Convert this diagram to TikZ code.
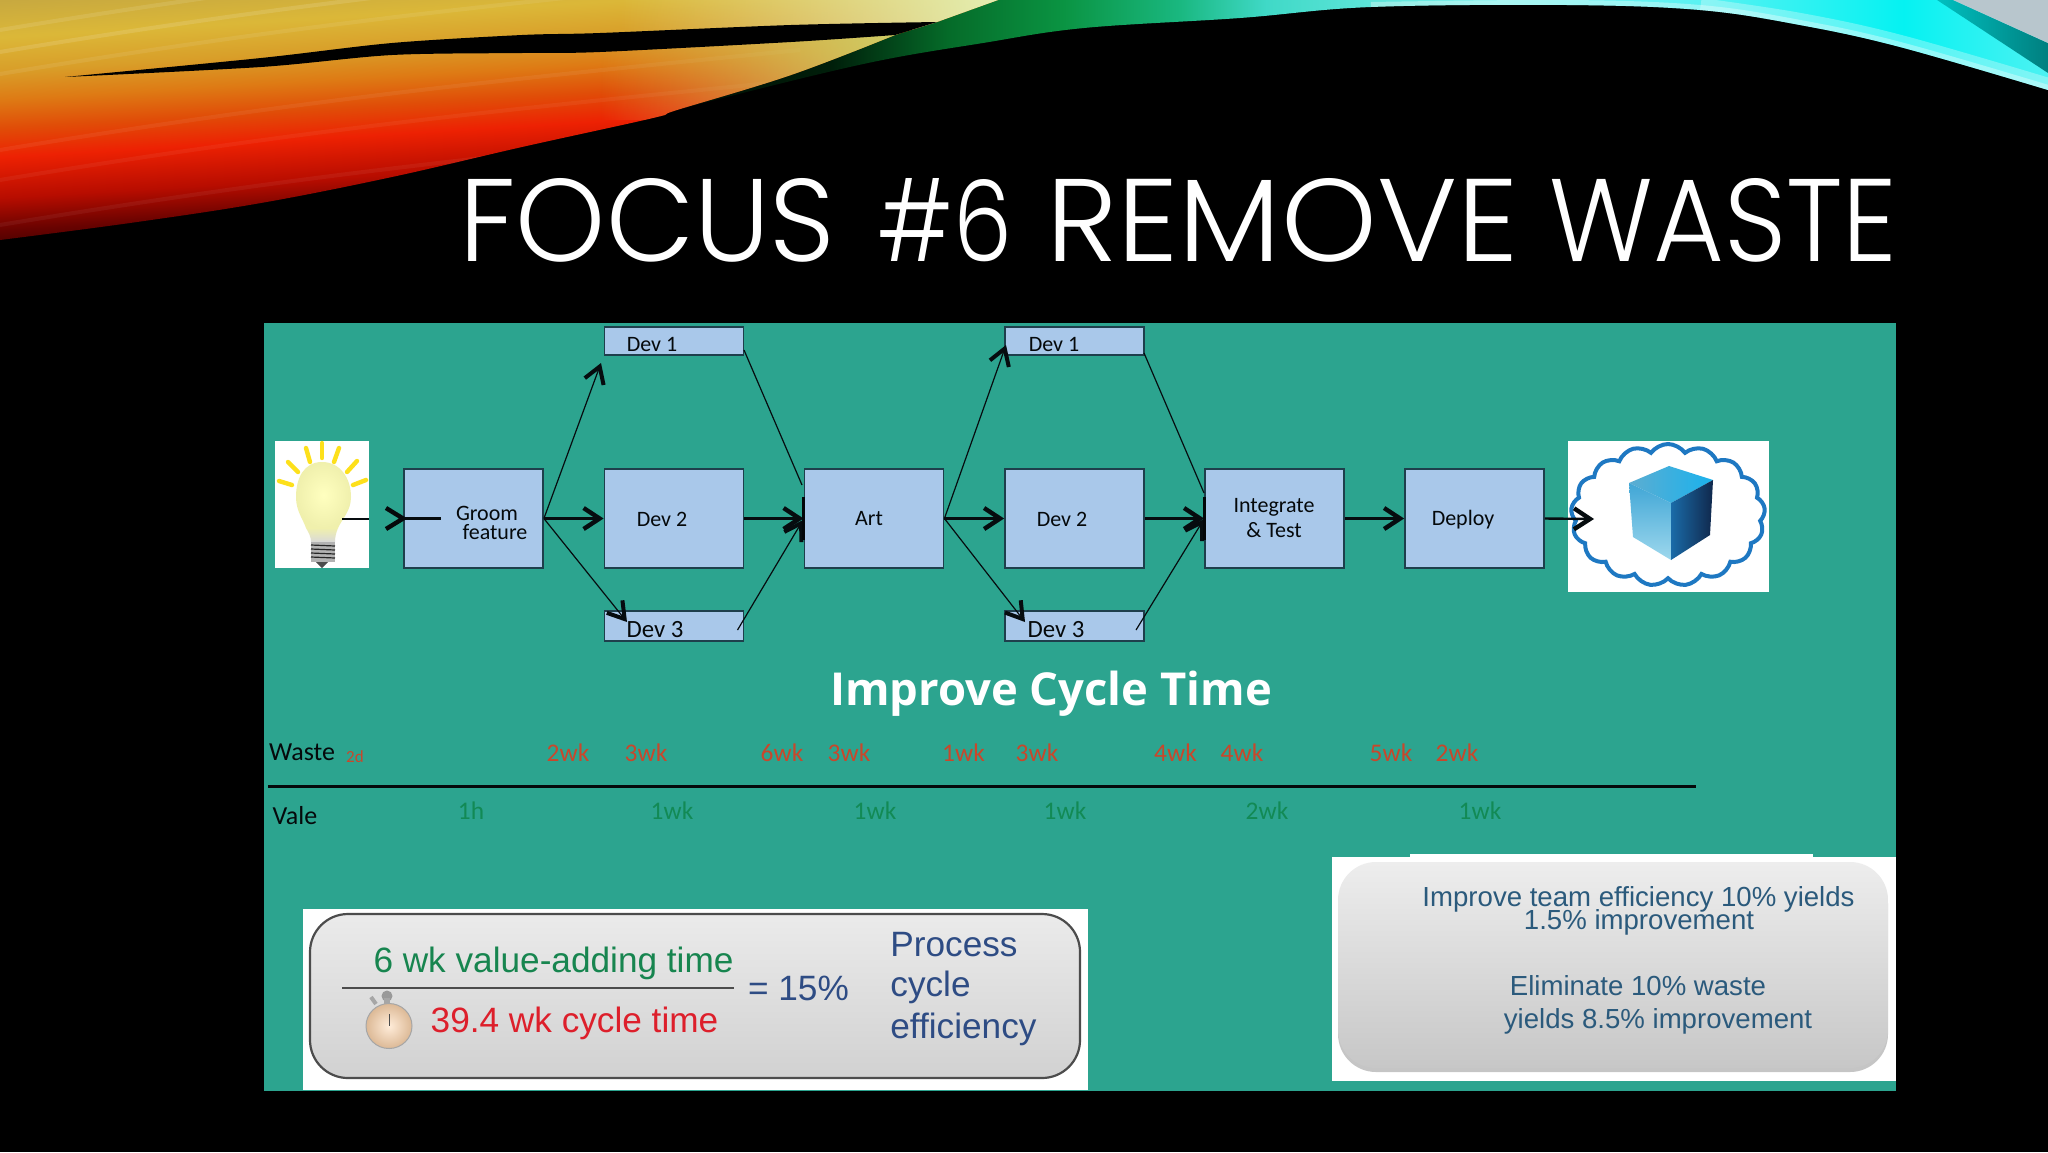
\documentclass[tikz,border=0pt]{standalone}
\usepackage{fontspec}
\setmainfont{Carlito}
\newfontfamily\arialfont{Liberation Sans}
\newfontfamily\titlefont{Poppins Light}
\newfontfamily\headfont{Open Sans}
\usetikzlibrary{arrows.meta,shapes.symbols,shadows,fadings}

\definecolor{panelteal}{HTML}{2CA48F}
\definecolor{boxblue}{HTML}{A9C8EA}
\definecolor{boxedge}{HTML}{1E3F4C}
\definecolor{wastered}{HTML}{C9472B}
\definecolor{valuegreen}{HTML}{128A55}
\definecolor{fracgreen}{HTML}{17854F}
\definecolor{fracred}{HTML}{DD1F2B}
\definecolor{fracblue}{HTML}{2E4C84}
\definecolor{noteblue}{HTML}{2B5A7C}
\definecolor{cloudblue}{HTML}{1E78C2}
\definecolor{paletop}{HTML}{E4F0B4}
\definecolor{palelow}{HTML}{CFCF68}
\definecolor{cubetopA}{HTML}{5CADD1}
\definecolor{cubetopB}{HTML}{1AB2ED}
\definecolor{cubeleftA}{HTML}{40A6D6}
\definecolor{cubeleftB}{HTML}{9ED8ED}
\definecolor{cubesideA}{HTML}{1A6BA8}
\definecolor{cubesideB}{HTML}{10284C}

\pgfdeclareverticalshading{firesweep}{100bp}{
  rgb(0bp)=(.2,0,0); rgb(53bp)=(.2,0,0); rgb(54.2bp)=(.42,.01,0);
  rgb(55.5bp)=(.72,.05,0); rgb(57.2bp)=(.93,.13,.01); rgb(58.4bp)=(.88,.3,.03);
  rgb(59.6bp)=(.87,.48,.08); rgb(60.8bp)=(.85,.62,.16); rgb(62.2bp)=(.86,.72,.22);
  rgb(63.8bp)=(.78,.66,.25); rgb(100bp)=(.78,.66,.25)}
\pgfdeclarehorizontalshading{icesweep}{100bp}{
  rgb(0bp)=(0,.02,0); rgb(25bp)=(0,.02,0); rgb(33bp)=(0,.12,.04); rgb(37bp)=(.02,.42,.16);
  rgb(41bp)=(.04,.58,.26); rgb(45bp)=(.1,.72,.5); rgb(48bp)=(.25,.85,.78); rgb(56bp)=(.5,.95,.93);
  rgb(63bp)=(.35,.95,.95); rgb(70bp)=(.02,.95,.95); rgb(75bp)=(.3,.95,.95); rgb(100bp)=(.3,.95,.95)}

\tikzset{
  flowbox/.style={draw=boxedge, fill=boxblue, line width=.9pt, minimum width=69.5pt, inner sep=0pt},
  flowtext/.style={align=center, inner sep=0pt, font=\fontsize{11}{12.4}\selectfont, text=black!85!boxedge},
  wideflowtext/.style={flowtext, font=\fontsize{12.4}{14}\selectfont},
  flowline/.style={black!80!boxedge, line width=.6pt},
  flowarrow/.style={black!80!boxedge, line width=1.2pt, -{Straight Barb[length=8pt,width=10.5pt,line width=2.2pt]}},
  thinarrow/.style={flowline, -{Straight Barb[length=8pt,width=10pt,line width=2pt]}},
  barline/.style={black!90!boxedge, line width=1.5pt},
  wastelabel/.style={inner sep=0pt, font=\fontsize{12.7}{14}\selectfont, text=wastered},
  valuelabel/.style={inner sep=0pt, font=\fontsize{12.7}{14}\selectfont, text=valuegreen},
  rowlabel/.style={inner sep=0pt, font=\fontsize{13}{15}\selectfont, text=black!85!boxedge},
  fractext/.style={inner sep=0pt, font=\arialfont\fontsize{17.6}{20}\selectfont},
  notetext/.style={inner sep=0pt, text=noteblue, font=\arialfont\fontsize{13.8}{16}\selectfont}
}

\begin{document}
\begin{tikzpicture}[x=0.5pt, y=-0.5pt]
    \useasboundingbox (0,0) rectangle (2048,1152);
    \fill[black] (0,0) rectangle (2048,1152);

    % swoosh
    \begin{scope}
        \clip plot[smooth, tension=.6] coordinates {(611,128) (715,100) (868,63) (983,43) (1084,28) (1240,18) (1371,7) (1567,5) (1700,10) (1800,25) (1900,47) (2048,90)}
            -- (2048,0) -- (998,0) -- (937,22) -- (895,35) -- (791,75) -- (677,110) -- cycle;
        \shade[shading=icesweep] (600,0) rectangle (2048,130);
        \draw[white, opacity=.35, line width=5pt] plot[smooth, tension=.6] coordinates {(1371,7) (1567,5) (1700,10) (1800,25) (1900,47) (2048,90)};
        \draw[white, opacity=.3, line width=12pt] plot[smooth, tension=.6] coordinates {(1700,10) (1800,25) (1900,47) (2048,90)};
    \end{scope}
    \shade[left color=cyan!75!black, right color=teal] (1937,0) -- (2048,73) -- (2048,43) -- (1953,0) -- cycle;
    \fill[cyan!20!gray!55!white] (1953,0) -- (2048,43) -- (2048,0) -- cycle;
    \begin{scope}
        \clip plot[smooth, tension=.6] coordinates {(0,240) (130,223) (261,203) (392,177) (522,147) (653,118) (677,110) (791,75) (895,35)}
            -- (937,22) -- (998,0) -- (0,0) -- cycle;
        \shade[shading=firesweep, shading angle=3.4] (-100,-300) rectangle (1100,900);
        \foreach \i/\o in {0/.1, 22/.12, 44/.08, 120/.06, 150/.05, 195/.05}
            \draw[white, opacity=\o, line width=2pt] (0,\i+30) .. controls (300,\i-20) and (500,\i-40) .. (800,\i-70);
        \fill[paletop, path fading=west] (620,0) rectangle (1000,30);
        \fill[palelow, path fading=west] (600,30) rectangle (900,120);
    \end{scope}
    \fill[black] plot[smooth, tension=.5] coordinates {(65,77) (261,58) (392,43) (522,35) (600,33) (791,25) (937,22)}
        -- plot[smooth, tension=.5] coordinates {(895,35) (791,42) (600,52) (522,53) (392,55) (261,67) (65,77)} -- cycle;

    % slide title, word by word
    \foreach \n/\x/\w/\t in {titleA/459/188/FOCUS, titleB/877/67.5/\#6, titleC/1046/236/REMOVE, titleD/1549/174/WASTE}
        \node[inner sep=0pt, anchor=base west, text=white] (\n) at (\x,261) {\resizebox{\w pt}{41.5pt}{\titlefont \t}};

    \fill[panelteal] (264,323) rectangle (1896,1091);

    % bulb picture
    \fill[white] (275,441) rectangle (369,568);
    \foreach \xa/\ya/\xb/\yb in {322/443/322/458, 306/448/310/462, 339/448/334/462, 288/462/298/472, 357/461/347/472, 279/481/292/485, 366/480/353/485}
        \draw[yellow!80!orange!90!white, line width=2.2pt, line cap=round] (\xa,\ya) -- (\xb,\yb);
    \shade[inner color=white!75!yellow, outer color=yellow!30!white!88!gray]
        (322,462) .. controls (340,462) and (351,478) .. (351,497)
        .. controls (351,511) and (342,519) .. (338,528) -- (306,528)
        .. controls (303,519) and (296,511) .. (296,497)
        .. controls (296,478) and (304,462) .. (322,462);
    \shade[top color=yellow!30!white!88!gray, bottom color=gray!30] (306,528) .. controls (309,533) and (311,537) .. (311,542) -- (335,542) .. controls (335,537) and (336,533) .. (338,528) -- cycle;
    \fill[gray!60] (311,542) rectangle (335,562);
    \foreach \y in {545,549,553,557}
        \draw[gray!30!black, line width=.6pt] (311,\y) -- (335,\y+1);
    \fill[black!70] (316,562) -- (328,562) -- (322,568) -- cycle;

    % cloud picture
    \fill[white] (1568,441) rectangle (1769,592);
    \node[cloud, cloud puffs=17, cloud puff arc=110, aspect=1.3, draw=cloudblue, line width=2pt, fill=white,
        minimum width=97pt, minimum height=71pt, inner sep=0pt] (cloudshape) at (1668,515) {};
    \coordinate (cubetop) at (1669,466);
    \coordinate (cubeleft) at (1629,483);
    \coordinate (cuberight) at (1713,480);
    \coordinate (cubemid) at (1671,503);
    \coordinate (cubelow) at (1633,537);
    \coordinate (cubebase) at (1671,560);
    \coordinate (cubeside) at (1710,535);
    \shade[left color=cubetopA, right color=cubetopB] (cubetop) -- (cuberight) -- (cubemid) -- (cubeleft) -- cycle;
    \shade[top color=cubeleftA, bottom color=cubeleftB] (cubeleft) -- (cubemid) -- (cubebase) -- (cubelow) -- cycle;
    \shade[left color=cubesideA, right color=cubesideB] (cubemid) -- (cuberight) -- (cubeside) -- (cubebase) -- cycle;

    % flow boxes
    \node[flowbox, minimum height=49.5pt] (groom) at (473.5,518.5) {};
    \node[flowbox, minimum height=14pt] (devA) at (674,341) {};
    \node[flowbox, minimum height=49.5pt] (devB) at (674,518.5) {};
    \node[flowbox, minimum height=15pt] (devC) at (674,626) {};
    \node[flowbox, minimum height=49.5pt] (art) at (874,518.5) {};
    \node[flowbox, minimum height=14pt] (devD) at (1074.5,341) {};
    \node[flowbox, minimum height=49.5pt] (devE) at (1074.5,518.5) {};
    \node[flowbox, minimum height=15pt] (devF) at (1074.5,626) {};
    \node[flowbox, minimum height=49.5pt] (merge) at (1274.5,518.5) {};
    \node[flowbox, minimum height=49.5pt] (deploy) at (1474.5,518.5) {};

    \foreach \n/\x/\y/\t in {devAt/652/344/Dev 1, devBt/662/519/Dev 2, artt/869/519/Art, devDt/1054/344/Dev 1,
        devEt/1062/519/Dev 2, deployt/1463/520/Deploy, groomt/487/513/Groom, featuret/495/532/feature,
        merget/1274/507/Integrate, testt/1274/530/\& Test}
        \node[flowtext] (\n) at (\x,\y) {\t};
    \foreach \n/\x in {devCt/655, devFt/1056}
        \node[wideflowtext] (\n) at (\x,630) {Dev 3};

    % free ends of the connectors
    \coordinate (stubA) at (342,519);
    \coordinate (stubB) at (369,519);
    \coordinate (leadU) at (386,508);
    \coordinate (leadD) at (386,529);
    \coordinate (leadB) at (441,518.5);
    \coordinate (tipA) at (601,363);
    \coordinate (tipC) at (627,622);
    \coordinate (outA) at (744,350);
    \coordinate (outC) at (737.5,630);
    \coordinate (inA) at (802,485);
    \coordinate (inC) at (803,520);
    \coordinate (barA) at (803,497);
    \coordinate (barB) at (803,540);
    \coordinate (tipD) at (1006,345);
    \coordinate (tipF) at (1025,622);
    \coordinate (outD) at (1144,353);
    \coordinate (outF) at (1136,630);
    \coordinate (inD) at (1204,493);
    \coordinate (inF) at (1204,519);
    \coordinate (barC) at (1204,497);
    \coordinate (barD) at (1204,540);
    \coordinate (cloudA) at (1594,519);

    \draw[black!80!boxedge, line width=1.3pt] (stubA) -- (stubB);
    \draw[black!85!boxedge, line width=2.2pt] (leadU) -- (groom.west) -- (leadD);
    \draw[black!80!boxedge, line width=1.3pt] (groom.west) -- (leadB);

    \draw[thinarrow] (groom.east) -- (tipA);
    \draw[flowarrow] (groom.east) -- (devB.west);
    \draw[thinarrow] (groom.east) -- (tipC);
    \draw[flowline] (outA) -- (inA);
    \draw[flowarrow] (devB.east) -- (art.west);
    \draw[thinarrow] (outC) -- (inC);
    \draw[barline] (barA) -- (barB);

    \draw[thinarrow] (art.east) -- (tipD);
    \draw[flowarrow] (art.east) -- (devE.west);
    \draw[thinarrow] (art.east) -- (tipF);
    \draw[flowline] (outD) -- (inD);
    \draw[flowarrow] (devE.east) -- (merge.west);
    \draw[thinarrow] (outF) -- (inF);
    \draw[barline] (barC) -- (barD);

    \draw[flowarrow] (merge.east) -- (deploy.west);
    \draw[flowarrow] (deploy.east) -- (cloudA);

    \node[inner sep=0pt, text=white, font=\headfont\bfseries\fontsize{22.7}{26}\selectfont] (cycletitle) at (1051,694) {Improve Cycle Time};

    % waste and value rows
    \node[rowlabel] (wasterow) at (302,752) {Waste};
    \node[inner sep=0pt, text=wastered, font=\fontsize{8.5}{10}\selectfont] (wasteday) at (355,757) {2d};
    \foreach \n/\x/\t in {a/568/2wk, b/646/3wk, c/782/6wk, d/849/3wk, e/963.5/1wk, f/1037/3wk, g/1175.5/4wk, h/1242/4wk, i/1391/5wk, j/1457/2wk}
        \node[wastelabel] (waste\n) at (\x,753) {\t};
    \coordinate (ruleA) at (268,786);
    \coordinate (ruleB) at (1696,786);
    \draw[black!85!boxedge, line width=1.5pt] (ruleA) -- (ruleB);
    \node[rowlabel] (valerow) at (295,816) {Vale};
    \foreach \n/\x/\t in {a/471/1h, b/672/1wk, c/875/1wk, d/1065/1wk, e/1267/2wk, f/1480/1wk}
        \node[valuelabel] (value\n) at (\x,811) {\t};

    % efficiency box
    \fill[white] (303,909) rectangle (1088,1090);
    \draw[black!70, line width=1.1pt, top color=black!8, bottom color=black!18, rounded corners=19pt] (310,914) rectangle (1080,1078);
    \node[fractext, text=fracgreen] (valuetime) at (553.5,963) {6 wk value-adding time};
    \node[fractext, text=fracred] (cycletime) at (574.5,1023) {39.4 wk cycle time};
    \coordinate (fracA) at (342,988);
    \coordinate (fracB) at (734,988);
    \draw[black!70, line width=.9pt] (fracA) -- (fracB);
    \node[fractext, text=fracblue] (percent) at (798.5,988) {= 15\%};
    \node[fractext, text=fracblue, anchor=west] (process) at (890,945) {Process};
    \node[fractext, text=fracblue, anchor=west] (cycleword) at (890,987) {cycle};
    \node[fractext, text=fracblue, anchor=west] (efficiency) at (890,1029) {efficiency};
    % stopwatch
    \draw[gray!70, line width=2pt] (376,1004) -- (371,997);
    \fill[gray!80] (387,996) circle (5.5);
    \draw[gray!70, line width=2.6pt] (387,998) -- (387,1006);
    \shade[inner color=white!85!orange, outer color=brown!55!white, draw=gray!70, line width=.5pt] (389,1026) circle [x radius=23, y radius=22.5];
    \draw[black!70, line width=.5pt] (389,1014) -- (389,1026);

    % improvement box
    \fill[white] (1332,857) rectangle (1896,1081);
    \fill[white] (1410,854) rectangle (1813,858);
    \shade[top color=black!7, bottom color=black!22, rounded corners=19pt, drop shadow={shadow xshift=0pt, shadow yshift=-2pt, opacity=.45}] (1338,862) rectangle (1888,1068);
    \node[notetext] (noteA) at (1638.5,899) {Improve team efficiency 10\% yields};
    \node[notetext] (noteB) at (1639,922) {1.5\% improvement};
    \node[notetext] (noteC) at (1638,986) {Eliminate 10\% waste};
    \node[notetext] (noteD) at (1658,1021) {yields 8.5\% improvement};
\end{tikzpicture}
\end{document}
